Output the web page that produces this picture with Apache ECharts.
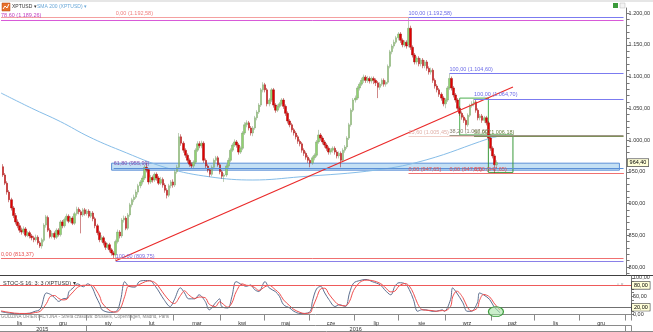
<!DOCTYPE html>
<html><head><meta charset="utf-8">
<script src="https://cdn.jsdelivr.net/npm/echarts@6/dist/echarts.min.js"></script>
<style>html,body{margin:0;padding:0;background:#fff;overflow:hidden}#c{width:653px;height:332px}</style>
</head><body><div id="c"></div>
<script>
// ---------- data ----------
const monthNames = ['sty','lut','mar','kwi','maj','cze','lip','sie','wrz','paź','lis','gru'];
const firstDay = [2015, 10, 4];   // 4 Nov 2015 (first category)
const lastDay  = [2017, 0, 4];    // last category
const candleStart = 1;            // category index of first candle
// [open, close, low, high]
const candles = [
[958,945,942,962],[945,932,929,948],[932,918,914,935],[918,906,902,921],[906,893,889,909],
[893,881,877,896],[881,871,867,885],[871,865,861,875],[865,858,854,869],[858,855,851,862],
[855,860,852,864],[860,850,847,863],[850,854,847,857],[854,849,845,857],[849,846,842,852],
[846,843,839,849],[843,847,840,851],[847,838,835,850],[838,833,830,841],[833,843,829,846],
[842,866,839,869],[866,879,862,882],[878,858,855,881],[858,848,845,861],[848,853,845,857],
[853,847,843,856],[847,858,844,861],[858,851,848,861],[851,871,848,874],[871,865,861,874],
[865,875,862,878],[875,880,872,884],[880,872,869,883],[872,877,869,880],[877,869,866,880],
[869,884,866,887],[884,891,881,895],[891,887,883,894],[887,882,853,890],[882,890,879,893],
[890,884,881,893],[884,888,881,891],[888,880,877,891],[880,885,877,888],[885,876,872,888],
[876,865,861,879],[865,854,850,868],[854,843,839,857],[843,846,839,850],[846,838,834,849],
[838,831,827,841],[831,835,828,838],[835,827,823,838],[827,822,818,830],[822,819,814,825],
[819,840,809.75,843],[840,855,837,859],[855,849,845,858],[849,874,846,877],[874,877,870,881],
[877,861,858,880],[861,882,858,885],[882,898,879,901],[898,906,894,909],[906,910,902,914],
[910,918,907,922],[918,928,914,931],[928,934,924,937],[934,940,930,944],[940,957,937,961],
[957,953,949,964],[953,934,930,956],[934,941,931,945],[941,937,933,944],[937,946,934,949],
[946,940,936,949],[940,932,929,943],[932,938,929,942],[938,929,925,941],[929,921,917,932],
[921,913,908,924],[913,928,910,931],[928,934,924,937],[934,929,925,938],[929,950,926,953],
[950,957,947,961],[957,1005,954,1011],[1005,995,991,1009],[995,984,980,998],[984,976,972,987],
[976,968,964,979],[968,962,958,971],[962,959,955,965],[959,965,955,968],[965,984,962,987],
[984,994,981,998],[994,991,987,998],[991,995,987,999],[995,968,964,998],[968,959,955,971],
[959,953,949,962],[953,946,942,956],[946,957,943,960],[957,968,954,971],[968,972,964,975],
[972,961,958,975],[961,950,946,964],[950,943,939,953],[943,945,934,948],[945,959,942,962],
[959,968,956,972],[968,984,965,987],[984,992,981,995],[992,997,989,1001],[997,992,988,1000],
[992,981,977,995],[981,987,978,990],[987,1011,984,1014],[1011,1024,1008,1028],[1024,1027,1020,1031],
[1027,1019,1015,1030],[1019,1011,1007,1022],[1011,1019,1006,1022],[1019,1035,1016,1038],[1035,1044,1031,1047],
[1044,1055,1041,1058],[1055,1079,1052,1082],[1079,1087,1075,1091],[1087,1079,1075,1090],[1079,1057,1053,1082],
[1057,1063,1053,1066],[1063,1079,1060,1082],[1079,1055,1051,1082],[1055,1047,1043,1058],[1047,1053,1044,1056],
[1053,1057,1050,1060],[1057,1063,1054,1066],[1063,1053,1049,1066],[1053,1042,1038,1056],[1042,1030,1026,1045],
[1030,1024,1020,1033],[1024,1016,1012,1027],[1016,1011,1007,1019],[1011,1005,1001,1014],[1005,998,994,1008],
[998,994,990,1001],[994,984,980,997],[984,979,975,987],[979,973,969,982],[973,968,964,976],
[968,964,957,971],[964,972,961,975],[972,976,968,979],[976,997,973,1000],[997,1008,994,1016],
[1008,1003,999,1011],[1003,997,993,1006],[997,992,988,1000],[992,987,983,995],[987,981,977,990],
[981,984,977,987],[984,987,980,990],[987,981,977,990],[981,975,971,984],[975,979,971,982],
[979,968,957,982],[968,984,965,987],[984,989,980,992],[989,1003,986,1006],[1003,1024,1000,1027],
[1024,1047,1021,1050],[1047,1063,1044,1066],[1063,1066,1059,1070],[1066,1082,1063,1085],[1082,1088,1078,1091],
[1088,1094,1085,1098],[1094,1099,1090,1103],[1099,1094,1090,1102],[1094,1097,1090,1101],[1097,1093,1089,1100],
[1093,1097,1089,1100],[1097,1094,1088,1100],[1094,1090,1085,1097],[1090,1083,1066,1093],[1083,1088,1079,1091],
[1088,1094,1085,1097],[1094,1088,1084,1097],[1088,1091,1084,1094],[1091,1116,1088,1119],[1116,1139,1113,1142],
[1139,1148,1135,1151],[1148,1154,1144,1158],[1154,1161,1151,1164],[1161,1167,1157,1170],[1167,1157,1153,1170],
[1157,1150,1146,1160],[1150,1154,1146,1157],[1154,1148,1144,1157],[1150,1176,1146,1192.58],[1176,1146,1142,1180],
[1146,1134,1130,1149],[1134,1123,1119,1137],[1123,1129,1119,1132],[1129,1120,1116,1132],[1120,1126,1116,1129],
[1126,1117,1113,1129],[1117,1123,1113,1126],[1123,1113,1109,1126],[1113,1107,1103,1116],[1107,1110,1103,1114],
[1110,1094,1090,1113],[1094,1085,1081,1097],[1085,1079,1075,1088],[1079,1072,1068,1082],[1072,1066,1062,1075],
[1066,1057,1053,1069],[1057,1063,1050,1066],[1063,1082,1060,1085],[1082,1097,1079,1104.6],[1097,1082,1078,1100],
[1082,1071,1067,1085],[1071,1063,1059,1074],[1063,1050,1046,1066],[1050,1042,1038,1053],[1042,1036,1032,1045],
[1036,1031,1027,1039],[1031,1024,1016,1034],[1024,1039,1021,1042],[1039,1054,1036,1057],[1054,1057,1051,1061],
[1057,1060,1053,1064.7],[1060,1047,1043,1063],[1047,1035,1031,1050],[1035,1038,1031,1041],[1038,1031,1027,1041],
[1031,1035,1027,1038],[1035,1027,1023,1038],[1027,1003,999,1030],[1003,987,983,1006],[987,975,971,990],
[975,961,947.65,978],[961,964.4,955,968]
];
// SMA 200, read at sample categories: [category index, value]
const sma200 = [[0,1074],[15,1050],[29,1029],[43,1005],[58,984],[81,956],[102,942],[123,937],[146,942],[184,953],[208,969],[238,1002],[242,1005]];
// Stochastic %K and %D, [category index, value]
const stochK = [[0,8],[4,4],[9,2],[14,4],[16,8],[19,15],[22,59],[24,55],[26,46],[28,36],[30,43],[32,45],[33,63],[35,73],[37,84],[40,76],[42,84],[44,76],[46,50],[48,27],[49,13],[53,6],[56,9],[58,40],[60,90],[62,77],[65,75],[67,90],[70,93],[72,93],[75,76],[77,59],[79,41],[82,22],[84,40],[87,73],[89,59],[91,43],[94,43],[96,54],[99,36],[101,13],[104,32],[106,43],[107,22],[110,18],[112,50],[114,90],[117,81],[119,77],[121,81],[123,68],[125,63],[128,90],[130,73],[133,63],[135,50],[137,27],[140,18],[142,9],[145,3],[147,3],[150,9],[151,36],[153,70],[155,77],[157,59],[159,41],[162,22],[164,27],[167,22],[169,59],[171,86],[174,93],[177,96],[180,90],[184,81],[186,68],[189,54],[191,77],[193,87],[196,84],[198,68],[200,41],[202,9],[204,13],[206,13],[209,9],[211,9],[214,13],[215,9],[218,41],[219,73],[221,59],[224,32],[226,9],[228,9],[231,32],[232,59],[234,54],[237,41],[239,22],[242,5]];
const stochD = [[0,10],[4,6],[9,3],[14,3],[16,5],[19,9],[22,30],[24,50],[26,52],[28,44],[30,40],[32,42],[33,50],[35,62],[37,74],[40,80],[42,80],[44,80],[46,68],[48,48],[49,32],[53,10],[56,7],[58,18],[60,50],[62,78],[65,78],[67,82],[70,90],[72,92],[75,86],[77,72],[79,56],[82,36],[84,30],[87,52],[89,65],[91,54],[94,44],[96,48],[99,46],[101,28],[104,22],[106,35],[107,32],[110,20],[112,32],[114,62],[117,84],[119,80],[121,79],[123,74],[125,66],[128,76],[130,80],[133,68],[135,58],[137,40],[140,24],[142,14],[145,6],[147,3],[150,5],[151,18],[153,45],[155,70],[157,72],[159,56],[162,35],[164,26],[167,24],[169,36],[171,66],[174,88],[177,94],[180,93],[184,85],[186,76],[189,62],[191,64],[193,78],[196,85],[198,78],[200,58],[202,30],[204,14],[206,12],[209,11],[211,9],[214,11],[215,10],[218,22],[219,48],[221,64],[224,46],[226,22],[228,10],[231,18],[232,38],[234,55],[237,48],[239,32],[242,12]];
// trend line end points [category index, price]
const trendLine = [[56,809.75],[250,1083.5]];
// Fibonacci / horizontal levels
const fibStart = [0, 56, 0, 199, 219, 231, 199, 219, 231, 199, 219, 231, 55, 0, 56];
const fibEnd   = [56, 199, 304, 304, 304, 304, 304, 304, 304, 304, 304, 304, 304, 304, 304];
const fibValue = [1192.58, 1192.58, 1189.26, 1192.58, 1104.6, 1064.7, 1005.45, 1007.6, 1006.18, 947.65, 947.65, 947.65, 955.99, 813.37, 809.75];
const fibText  = ['', '0,00 (1.192,58)', '78,60 (1.189,26)', '100,00 (1.192,58)', '100,00 (1.104,60)', '100,00 (1.064,70)', '23,60 (1.005,45)', '38,20 (1.007,60)', '50,00 (1.006,18)', '0,00 (947,65)', '0,00 (947,65)', '0,00 (947,65)', '61,80 (955,99)', '0,00 (813,37)', '100,00 (809,75)'];
// zones: [startIdx, top, endIdx, bottom]
const bandZone = [54, 963.5, 302, 952.5];
const boxA = [224, 1066, 238, 1008];
const boxB = [238, 1008, 250, 949];
const lastPrice = 964.4;
const priceTicks = [800, 850, 900, 950, 1000, 1050, 1100, 1150, 1200];
const stochTicks = [0, 50, 100];
const stochLevels = [80, 20];
const years = ['2015', '2016'];

// ---------- styles ----------
const fibLine = ['#f4a0a0','#f4a0a0','#d85ad8','#7b7bf0','#7b7bf0','#7b7bf0','#f0d0c8','#a09888','#7f8f5a','#f07070','#f07070','#f07070','#5b8fd6','#f07070','#8a80e8'];
const fibLabel = ['#f08080','#f08080','#c040c0','#6a6ae8','#6a6ae8','#6a6ae8','#e0b0a8','#8a8070','#6a8040','#e85050','#e85050','#e85050','#8050b0','#e85050','#7a6ae0'];
const FONT = 'Liberation Sans';

// ---------- categories ----------
const cats = [];
{
  const d = new Date(firstDay[0], firstDay[1], firstDay[2]);
  const e = new Date(lastDay[0], lastDay[1], lastDay[2]);
  while (d <= e) {
    const wd = d.getDay();
    if (wd !== 0 && wd !== 6) cats.push([d.getFullYear(), d.getMonth(), d.getDate()]);
    d.setDate(d.getDate() + 1);
  }
}
const catNames = cats.map(c => c[0] + '-' + (c[1] + 1) + '-' + c[2]);
const monthStart = new Set(), monthMid = {}, yearStart = new Set(), yearMid = {};
{
  const groups = {}, ygroups = {};
  cats.forEach((c, i) => {
    const k = c[0] * 12 + c[1];
    (groups[k] = groups[k] || []).push(i);
    (ygroups[c[0]] = ygroups[c[0]] || []).push(i);
    if (i > 0 && cats[i - 1][1] !== c[1]) monthStart.add(i);
    if (i > 0 && cats[i - 1][0] !== c[0]) yearStart.add(i);
  });
  Object.keys(groups).forEach(k => {
    const g = groups[k];
    if (g.length > 10) monthMid[g[Math.floor((g.length - 1) / 2)]] = monthNames[k % 12];
  });
  Object.keys(ygroups).forEach(y => {
    const g = ygroups[y];
    if (years.indexOf(y) >= 0) yearMid[g[Math.floor((g.length - 1) / 2)]] = y;
  });
}

const ohlc = catNames.map((_, i) => {
  const c = candles[i - candleStart];
  return c ? c.slice() : '-';
});

function fmt(v) {
  const s = Math.abs(v).toFixed(2).split('.');
  const a = s[0].replace(/\B(?=(\d{3})+(?!\d))/g, '.');
  return (v < 0 ? '-' : '') + a + ',' + s[1];
}
const minorPrice = [];
for (let v = 790; v <= 1200; v += 10) minorPrice.push(v);
const minorStoch = [];
for (let v = 0; v <= 100; v += 10) minorStoch.push(v);

const fibLines = fibValue.map((v, k) => [
  { coord: [fibStart[k], v], lineStyle: { color: fibLine[k], width: 1, type: 'solid' },
    label: { show: fibText[k] !== '', formatter: fibText[k], position: 'insideStartTop', distance: [0, 1],
             color: fibLabel[k], fontSize: 5.5, fontFamily: FONT } },
  { coord: [fibEnd[k], v] }
]);

const boxLabel = { show: true, position: 'end', distance: 1, backgroundColor: '#ffffd8', borderColor: '#333',
  borderWidth: 0.6, padding: [1, 2, 0, 2], fontSize: 5.5, fontFamily: FONT, color: '#000' };

const chart = echarts.init(document.getElementById('c'), null, { renderer: 'canvas' });
const option = {
  animation: false,
  backgroundColor: '#ffffff',
  grid: [
    { left: 0, right: 22, top: 8, height: 267 },
    { left: 0, right: 22, top: 276, height: 44 }
  ],
  xAxis: [
    { type: 'category', gridIndex: 0, data: catNames, boundaryGap: true,
      axisLine: { show: false }, axisTick: { show: false }, axisLabel: { show: false }, splitLine: { show: false } },
    { type: 'category', gridIndex: 1, data: catNames, boundaryGap: true, position: 'bottom',
      axisLine: { show: true, lineStyle: { color: '#8a8a8a', width: 1 } },
      axisTick: { show: true, length: 6, lineStyle: { color: '#8a8a8a' }, interval: (i) => monthStart.has(i) },
      axisLabel: { show: true, interval: (i) => monthMid[i] !== undefined, formatter: (v, i) => monthMid[i] || '',
                   fontSize: 5.5, fontFamily: FONT, color: '#333', margin: 1 } },
    { type: 'category', gridIndex: 1, data: catNames, boundaryGap: true, position: 'bottom', offset: 6,
      axisLine: { show: true, lineStyle: { color: '#8a8a8a', width: 1 } },
      axisTick: { show: true, length: 6, lineStyle: { color: '#8a8a8a' }, interval: (i) => yearStart.has(i) },
      axisLabel: { show: true, interval: (i) => yearMid[i] !== undefined, formatter: (v, i) => yearMid[i] || '',
                   fontSize: 5.5, fontFamily: FONT, color: '#333', margin: 0.5 } }
  ],
  yAxis: [
    { type: 'value', gridIndex: 0, position: 'right', min: 787.4, max: 1207.9, scale: true,
      axisLine: { show: true, lineStyle: { color: '#777' } },
      axisTick: { show: true, length: 3, customValues: minorPrice, lineStyle: { color: '#777' } },
      axisLabel: { show: true, customValues: priceTicks, formatter: fmt, fontSize: 5.5, fontFamily: FONT, color: '#333', margin: 2 },
      splitLine: { show: false } },
    { type: 'value', gridIndex: 1, position: 'right', min: -13.5, max: 105.4,
      axisLine: { show: true, lineStyle: { color: '#777' } },
      axisTick: { show: true, length: 3, customValues: minorStoch, lineStyle: { color: '#777' } },
      axisLabel: { show: true, customValues: stochTicks, formatter: fmt, fontSize: 5.5, fontFamily: FONT, color: '#333', margin: 2 },
      splitLine: { show: false } }
  ],
  series: [
    { name: 'XPTUSD', type: 'candlestick', xAxisIndex: 0, yAxisIndex: 0, data: ohlc, barWidth: 2,
      itemStyle: { color: '#8fd46e', color0: '#e00000', borderColor: '#7f9f70', borderColor0: '#a01010', borderWidth: 0.5 },
      markArea: { silent: true, data: [
        [ { coord: [bandZone[0], bandZone[1]], itemStyle: { color: 'rgba(176,214,240,0.75)', borderColor: '#5b8fd6', borderWidth: 1 } },
          { coord: [bandZone[2], bandZone[3]] } ],
        [ { coord: [boxA[0], boxA[1]], itemStyle: { color: 'rgba(0,0,0,0)', borderColor: '#4caf50', borderWidth: 1 } },
          { coord: [boxA[2], boxA[3]] } ],
        [ { coord: [boxB[0], boxB[1]], itemStyle: { color: 'rgba(0,0,0,0)', borderColor: '#3a9a3a', borderWidth: 1 } },
          { coord: [boxB[2], boxB[3]] } ]
      ] },
      markLine: { silent: true, symbol: ['none', 'none'], animation: false, data: fibLines.concat([
        { yAxis: lastPrice, lineStyle: { color: 'rgba(0,0,0,0)', width: 0 },
          label: Object.assign({}, boxLabel, { formatter: fmt(lastPrice) }) }
      ]) }
    },
    { name: 'SMA 200', type: 'line', xAxisIndex: 0, yAxisIndex: 0, data: sma200, smooth: 0.4, symbol: 'none',
      lineStyle: { color: '#86bde8', width: 1 }, z: 1 },
    { name: 'trend', type: 'line', xAxisIndex: 0, yAxisIndex: 0, data: trendLine, symbol: 'none',
      lineStyle: { color: '#ea2a2a', width: 1.2 }, z: 3 },
    { name: '%K', type: 'line', xAxisIndex: 1, yAxisIndex: 1, data: stochK, smooth: 0.35, symbol: 'none',
      lineStyle: { color: '#5d6f8f', width: 1 },
      markLine: { silent: true, symbol: ['none', 'none'], data: stochLevels.map((v, k) => ({
        yAxis: v, lineStyle: { color: k === 0 ? '#ee5a5a' : '#707070', width: 1, type: 'solid' },
        label: Object.assign({}, boxLabel, { formatter: fmt(v) }) })) },
      markPoint: { silent: true, data: [ { coord: [240, 8], symbol: 'circle', symbolSize: [15, 10],
        itemStyle: { color: 'rgba(160,225,160,0.55)', borderColor: '#3a9a3a', borderWidth: 1 }, label: { show: false } } ] }
    },
    { name: '%D', type: 'line', xAxisIndex: 1, yAxisIndex: 1, data: stochD, smooth: 0.35, symbol: 'none',
      lineStyle: { color: '#f05050', width: 1 } }
  ],
  graphic: [
    { type: 'rect', shape: { x: 0, y: 0, width: 653, height: 2 }, style: { fill: '#e6e6e6' }, silent: true },
    { type: 'rect', shape: { x: 2, y: 3, width: 8, height: 8 }, style: { fill: '#e8702a', stroke: '#b04010', lineWidth: 0.5 } },
    { type: 'polyline', shape: { points: [[3, 9], [5, 6], [7, 8], [9, 4]] }, style: { stroke: '#fff', lineWidth: 1, fill: null } },
    { type: 'text', x: 12, y: 4.5, style: { text: 'XPTUSD ▾', fontSize: 5, fontFamily: FONT, fill: '#333' } },
    { type: 'text', x: 37, y: 4.5, style: { text: 'SMA 200 (XPTUSD) ▾', fontSize: 5, fontFamily: FONT, fill: '#6aa8d8' } },
    { type: 'rect', shape: { x: 613, y: 3, width: 5, height: 5 }, style: { fill: '#3a9a3a' } },
    { type: 'rect', shape: { x: 620, y: 3, width: 5, height: 5 }, style: { fill: '#f4f4f4', stroke: '#bbb', lineWidth: 0.5 } },
    { type: 'line', shape: { x1: 0, y1: 275.5, x2: 653, y2: 275.5 }, style: { stroke: '#404040', lineWidth: 1.2 } },
    { type: 'text', x: 3, y: 280, style: { text: 'STOC-S 16; 3; 3 (XPTUSD) ▾', fontSize: 5.5, fontFamily: FONT, fill: '#333' } },
    { type: 'text', x: 617, y: 281, style: { text: '▫ ×', fontSize: 5.5, fontFamily: FONT, fill: '#aaa' } },
    { type: 'text', x: 1, y: 314.5, style: { text: 'GODZINA ORIENTACYJNA - Strefa czasowa: Brussels, Copenhagen, Madrid, Paris', fontSize: 4.5, fontFamily: FONT, fill: '#888' } },
    { type: 'line', shape: { x1: 0, y1: 331.5, x2: 653, y2: 331.5 }, style: { stroke: '#8a8a8a', lineWidth: 1 } }
  ]
};
chart.setOption(option);
</script>
</body></html>
